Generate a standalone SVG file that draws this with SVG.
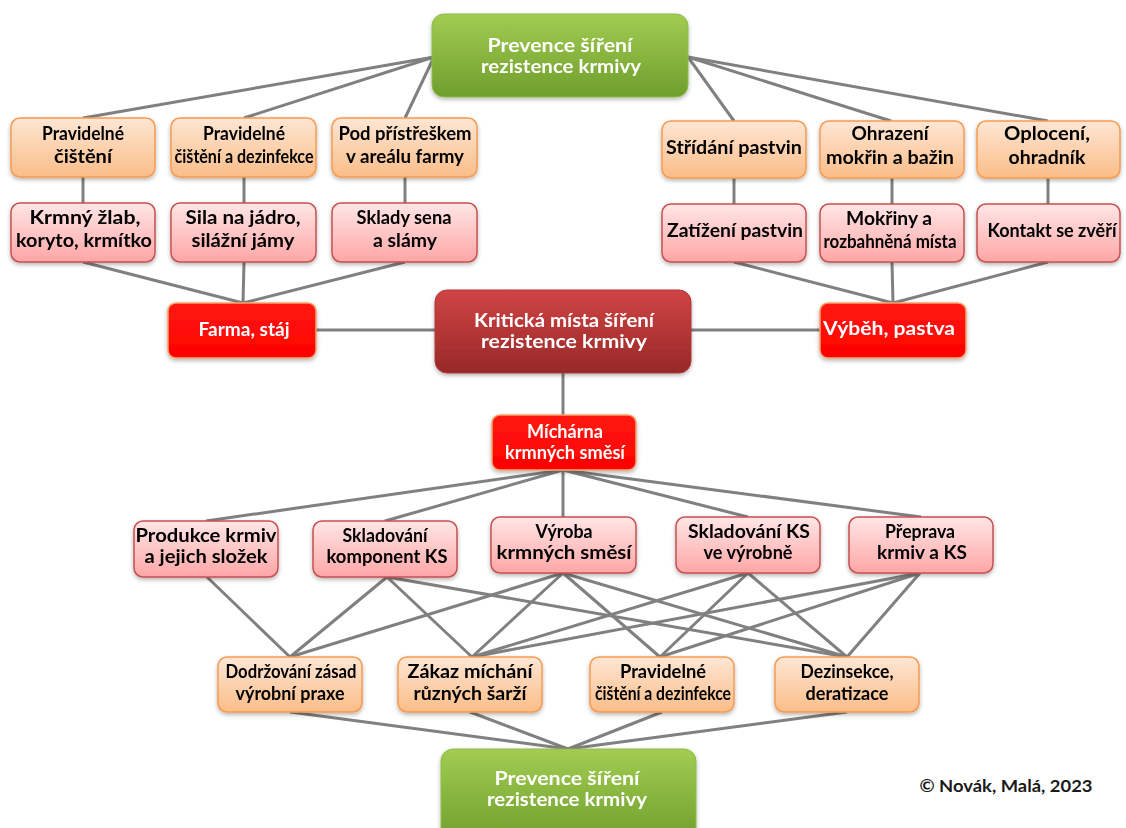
<svg xmlns="http://www.w3.org/2000/svg" width="1126" height="828" viewBox="0 0 1126 828">
  <defs>
    <linearGradient id="gGreen" x1="0" y1="0" x2="0" y2="1">
      <stop offset="0" stop-color="#a2cc52"/>
      <stop offset="1" stop-color="#6e9e2c"/>
    </linearGradient>
    <linearGradient id="gOrange" x1="0" y1="0" x2="0" y2="1">
      <stop offset="0" stop-color="#fee6d4"/>
      <stop offset="1" stop-color="#fbbd88"/>
    </linearGradient>
    <linearGradient id="gPink" x1="0" y1="0" x2="0" y2="1">
      <stop offset="0" stop-color="#ffe6e6"/>
      <stop offset="1" stop-color="#ffa6a6"/>
    </linearGradient>
    <linearGradient id="gRed" x1="0" y1="0" x2="0" y2="1">
      <stop offset="0" stop-color="#ff1a10"/>
      <stop offset="1" stop-color="#ff0000"/>
    </linearGradient>
    <linearGradient id="gDark" x1="0" y1="0" x2="0" y2="1">
      <stop offset="0" stop-color="#d04444"/>
      <stop offset="1" stop-color="#982828"/>
    </linearGradient>
    <filter id="shadow" x="-10%" y="-10%" width="120%" height="130%">
      <feGaussianBlur in="SourceAlpha" stdDeviation="2"/>
      <feOffset dx="0" dy="2" result="b"/>
      <feComponentTransfer><feFuncA type="linear" slope="0.3"/></feComponentTransfer>
      <feMerge><feMergeNode/><feMergeNode in="SourceGraphic"/></feMerge>
    </filter>
  </defs>
  <style>
    .box { filter: url(#shadow); }
    .green { fill: url(#gGreen); stroke: #8fbc48; stroke-width: 1; }
    .orange { fill: url(#gOrange); stroke: #f79a50; stroke-width: 1.5; }
    .pink { fill: url(#gPink); stroke: #c85050; stroke-width: 1.5; }
    .red { fill: url(#gRed); stroke: #f4a46a; stroke-width: 1.5; }
    .dark { fill: url(#gDark); stroke: #b03838; stroke-width: 1; }
    text { font-family: "Lato", "Liberation Sans", sans-serif; font-weight: bold; text-anchor: middle; }
    .t { font-size: 18px; fill: #000; }
    .w { font-size: 18px; fill: #fff; }
    .wl { font-size: 19px; fill: #fff; }
    .conn line { stroke: #808080; stroke-width: 3; }
    .copy { font-size: 17px; fill: #1a1a1a; }
  </style>

  <!-- connectors -->
  <g class="conn">
    <!-- top prevention to farm measures -->
    <line x1="434" y1="57" x2="83" y2="118"/>
    <line x1="434" y1="57" x2="244" y2="118"/>
    <line x1="434" y1="57" x2="405" y2="118"/>
    <line x1="688" y1="57" x2="734" y2="121"/>
    <line x1="688" y1="57" x2="891" y2="121"/>
    <line x1="688" y1="57" x2="1048" y2="121"/>
    <!-- measures to places -->
    <line x1="83" y1="177" x2="83" y2="203"/>
    <line x1="244" y1="177" x2="244" y2="203"/>
    <line x1="405" y1="177" x2="405" y2="203"/>
    <line x1="734" y1="178" x2="734" y2="204"/>
    <line x1="892" y1="178" x2="892" y2="204"/>
    <line x1="1048" y1="178" x2="1048" y2="204"/>
    <!-- places to farm / pasture -->
    <line x1="83" y1="262" x2="243" y2="303"/>
    <line x1="244" y1="262" x2="243" y2="303"/>
    <line x1="405" y1="262" x2="243" y2="303"/>
    <line x1="734" y1="262" x2="893" y2="303"/>
    <line x1="892" y1="262" x2="893" y2="303"/>
    <line x1="1048" y1="262" x2="893" y2="303"/>
    <!-- central hub -->
    <line x1="316" y1="330" x2="435" y2="330"/>
    <line x1="691" y1="330" x2="820" y2="330"/>
    <line x1="563" y1="373" x2="563" y2="415"/>
    <!-- mill to stages -->
    <line x1="563" y1="470" x2="206" y2="521"/>
    <line x1="563" y1="470" x2="385" y2="521"/>
    <line x1="563" y1="470" x2="563" y2="517"/>
    <line x1="563" y1="470" x2="748" y2="517"/>
    <line x1="563" y1="470" x2="921" y2="517"/>
    <!-- stages to measures -->
    <line x1="207" y1="577" x2="290" y2="657"/>
    <line x1="387" y1="577" x2="290" y2="657"/>
    <line x1="387" y1="577" x2="472" y2="657"/>
    <line x1="387" y1="577" x2="847" y2="657"/>
    <line x1="563" y1="573" x2="290" y2="657"/>
    <line x1="563" y1="573" x2="472" y2="657"/>
    <line x1="563" y1="573" x2="660" y2="657"/>
    <line x1="563" y1="573" x2="847" y2="657"/>
    <line x1="748" y1="573" x2="472" y2="657"/>
    <line x1="748" y1="573" x2="660" y2="657"/>
    <line x1="748" y1="573" x2="847" y2="657"/>
    <line x1="920" y1="573" x2="472" y2="657"/>
    <line x1="920" y1="573" x2="660" y2="657"/>
    <line x1="920" y1="573" x2="847" y2="657"/>
    <!-- measures to bottom prevention -->
    <line x1="290" y1="712" x2="568" y2="749"/>
    <line x1="470" y1="712" x2="568" y2="749"/>
    <line x1="662" y1="712" x2="568" y2="749"/>
    <line x1="847" y1="712" x2="568" y2="749"/>
  </g>

  <!-- top prevention node -->
  <g id="prevence-top" class="box">
    <rect class="green" x="432" y="14" width="256" height="83" rx="12"/>
    <text class="wl" x="560" y="52" textLength="145" lengthAdjust="spacingAndGlyphs">Prevence šíření</text>
    <text class="wl" x="561" y="73" textLength="160" lengthAdjust="spacingAndGlyphs">rezistence krmivy</text>
  </g>

  <!-- farm measures -->
  <g id="pravidelne-cisteni" class="box">
    <rect class="orange" x="11" y="118" width="144" height="59" rx="9"/>
    <text class="t" x="83" y="140" textLength="82" lengthAdjust="spacingAndGlyphs">Pravidelné</text>
    <text class="t" x="83" y="163" textLength="58" lengthAdjust="spacingAndGlyphs">čištění</text>
  </g>
  <g id="cisteni-dezinfekce-farma" class="box">
    <rect class="orange" x="171" y="118" width="145" height="59" rx="9"/>
    <text class="t" x="244" y="140" textLength="82" lengthAdjust="spacingAndGlyphs">Pravidelné</text>
    <text class="t" x="244" y="163" textLength="139" lengthAdjust="spacingAndGlyphs">čištění a dezinfekce</text>
  </g>
  <g id="pod-pristreskem" class="box">
    <rect class="orange" x="332" y="118" width="145" height="59" rx="9"/>
    <text class="t" x="405" y="140" textLength="133" lengthAdjust="spacingAndGlyphs">Pod přístřeškem</text>
    <text class="t" x="405" y="163" textLength="118" lengthAdjust="spacingAndGlyphs">v areálu farmy</text>
  </g>

  <!-- pasture measures -->
  <g id="stridani-pastvin" class="box">
    <rect class="orange" x="662" y="121" width="144" height="57" rx="9"/>
    <text class="t" x="734" y="154" textLength="136" lengthAdjust="spacingAndGlyphs">Střídání pastvin</text>
  </g>
  <g id="ohrazeni-mokrin" class="box">
    <rect class="orange" x="820" y="121" width="144" height="57" rx="9"/>
    <text class="t" x="890" y="140" textLength="77" lengthAdjust="spacingAndGlyphs">Ohrazení</text>
    <text class="t" x="890" y="164" textLength="128" lengthAdjust="spacingAndGlyphs">mokřin a bažin</text>
  </g>
  <g id="oploceni" class="box">
    <rect class="orange" x="977" y="121" width="143" height="57" rx="9"/>
    <text class="t" x="1047" y="140" textLength="86" lengthAdjust="spacingAndGlyphs">Oplocení,</text>
    <text class="t" x="1047" y="164" textLength="77" lengthAdjust="spacingAndGlyphs">ohradník</text>
  </g>

  <!-- farm places -->
  <g id="krmny-zlab" class="box">
    <rect class="pink" x="11" y="203" width="144" height="59" rx="9"/>
    <text class="t" x="85" y="224" textLength="111" lengthAdjust="spacingAndGlyphs">Krmný žlab,</text>
    <text class="t" x="84" y="247" textLength="136" lengthAdjust="spacingAndGlyphs">koryto, krmítko</text>
  </g>
  <g id="sila" class="box">
    <rect class="pink" x="171" y="203" width="145" height="59" rx="9"/>
    <text class="t" x="243" y="224" textLength="115" lengthAdjust="spacingAndGlyphs">Sila na jádro,</text>
    <text class="t" x="243" y="247" textLength="103" lengthAdjust="spacingAndGlyphs">silážní jámy</text>
  </g>
  <g id="sklady-sena" class="box">
    <rect class="pink" x="332" y="203" width="145" height="59" rx="9"/>
    <text class="t" x="404" y="224" textLength="95" lengthAdjust="spacingAndGlyphs">Sklady sena</text>
    <text class="t" x="405" y="247" textLength="64" lengthAdjust="spacingAndGlyphs">a slámy</text>
  </g>

  <!-- pasture places -->
  <g id="zatizeni-pastvin" class="box">
    <rect class="pink" x="662" y="204" width="144" height="58" rx="9"/>
    <text class="t" x="735" y="237" textLength="136" lengthAdjust="spacingAndGlyphs">Zatížení pastvin</text>
  </g>
  <g id="mokriny" class="box">
    <rect class="pink" x="820" y="204" width="144" height="58" rx="9"/>
    <text class="t" x="889" y="225" textLength="86" lengthAdjust="spacingAndGlyphs">Mokřiny a</text>
    <text class="t" x="890" y="248" textLength="133" lengthAdjust="spacingAndGlyphs">rozbahněná místa</text>
  </g>
  <g id="kontakt-se-zveri" class="box">
    <rect class="pink" x="977" y="204" width="143" height="58" rx="9"/>
    <text class="t" x="1052" y="237" textLength="129" lengthAdjust="spacingAndGlyphs">Kontakt se zvěří</text>
  </g>

  <!-- central level -->
  <g id="farma-staj" class="box">
    <rect class="red" x="168" y="303" width="148" height="55" rx="8"/>
    <text class="w" x="244" y="336" textLength="91" lengthAdjust="spacingAndGlyphs">Farma, stáj</text>
  </g>
  <g id="kriticka-mista" class="box">
    <rect class="dark" x="435" y="290" width="256" height="83" rx="12"/>
    <text class="wl" x="564" y="327" textLength="180" lengthAdjust="spacingAndGlyphs">Kritická místa šíření</text>
    <text class="wl" x="564" y="348" textLength="166" lengthAdjust="spacingAndGlyphs">rezistence  krmivy</text>
  </g>
  <g id="vybeh-pastva" class="box">
    <rect class="red" x="820" y="303" width="146" height="55" rx="8"/>
    <text class="w" x="889" y="335" textLength="132" lengthAdjust="spacingAndGlyphs">Výběh, pastva</text>
  </g>
  <g id="michárna" class="box">
    <rect class="red" x="492" y="415" width="144" height="55" rx="8"/>
    <text class="w" x="565" y="438" textLength="76" lengthAdjust="spacingAndGlyphs">Míchárna</text>
    <text class="w" x="565" y="459" textLength="120" lengthAdjust="spacingAndGlyphs">krmných směsí</text>
  </g>

  <!-- mill stages -->
  <g id="produkce" class="box">
    <rect class="pink" x="134" y="521" width="144" height="56" rx="9"/>
    <text class="t" x="206" y="542" textLength="141" lengthAdjust="spacingAndGlyphs">Produkce krmiv</text>
    <text class="t" x="206" y="563" textLength="123" lengthAdjust="spacingAndGlyphs">a jejich složek</text>
  </g>
  <g id="skladovani-komponent" class="box">
    <rect class="pink" x="313" y="521" width="144" height="56" rx="9"/>
    <text class="t" x="385" y="542" textLength="85" lengthAdjust="spacingAndGlyphs">Skladování</text>
    <text class="t" x="387" y="563" textLength="121" lengthAdjust="spacingAndGlyphs">komponent KS</text>
  </g>
  <g id="vyroba" class="box">
    <rect class="pink" x="491" y="517" width="145" height="56" rx="9"/>
    <text class="t" x="564" y="538" textLength="57" lengthAdjust="spacingAndGlyphs">Výroba</text>
    <text class="t" x="564" y="559" textLength="135" lengthAdjust="spacingAndGlyphs">krmných směsí</text>
  </g>
  <g id="skladovani-ks" class="box">
    <rect class="pink" x="676" y="517" width="144" height="56" rx="9"/>
    <text class="t" x="749" y="538" textLength="122" lengthAdjust="spacingAndGlyphs">Skladování KS</text>
    <text class="t" x="748" y="559" textLength="89" lengthAdjust="spacingAndGlyphs">ve výrobně</text>
  </g>
  <g id="preprava" class="box">
    <rect class="pink" x="849" y="517" width="144" height="56" rx="9"/>
    <text class="t" x="920" y="538" textLength="70" lengthAdjust="spacingAndGlyphs">Přeprava</text>
    <text class="t" x="922" y="559" textLength="90" lengthAdjust="spacingAndGlyphs">krmiv a KS</text>
  </g>

  <!-- mill measures -->
  <g id="dodrzovani" class="box">
    <rect class="orange" x="218" y="657" width="144" height="55" rx="9"/>
    <text class="t" x="291" y="678" textLength="131" lengthAdjust="spacingAndGlyphs">Dodržování zásad</text>
    <text class="t" x="290" y="700" textLength="109" lengthAdjust="spacingAndGlyphs">výrobní praxe</text>
  </g>
  <g id="zakaz-michani" class="box">
    <rect class="orange" x="398" y="657" width="144" height="55" rx="9"/>
    <text class="t" x="470" y="678" textLength="125" lengthAdjust="spacingAndGlyphs">Zákaz míchání</text>
    <text class="t" x="470" y="700" textLength="113" lengthAdjust="spacingAndGlyphs">různých šarží</text>
  </g>
  <g id="cisteni-dezinfekce-michárna" class="box">
    <rect class="orange" x="590" y="657" width="144" height="55" rx="9"/>
    <text class="t" x="663" y="678" textLength="86" lengthAdjust="spacingAndGlyphs">Pravidelné</text>
    <text class="t" x="663" y="700" textLength="136" lengthAdjust="spacingAndGlyphs">čištění a dezinfekce</text>
  </g>
  <g id="dezinsekce" class="box">
    <rect class="orange" x="775" y="657" width="144" height="55" rx="9"/>
    <text class="t" x="847" y="678" textLength="93" lengthAdjust="spacingAndGlyphs">Dezinsekce,</text>
    <text class="t" x="847" y="700" textLength="83" lengthAdjust="spacingAndGlyphs">deratizace</text>
  </g>

  <!-- bottom prevention node -->
  <g id="prevence-bottom" class="box">
    <rect class="green" x="441" y="749" width="255" height="95" rx="12"/>
    <text class="wl" x="567" y="785" textLength="145" lengthAdjust="spacingAndGlyphs">Prevence šíření</text>
    <text class="wl" x="567" y="806" textLength="160" lengthAdjust="spacingAndGlyphs">rezistence krmivy</text>
  </g>

  <text class="copy" x="1006" y="792" textLength="173" lengthAdjust="spacingAndGlyphs">© Novák, Malá, 2023</text>
</svg>
